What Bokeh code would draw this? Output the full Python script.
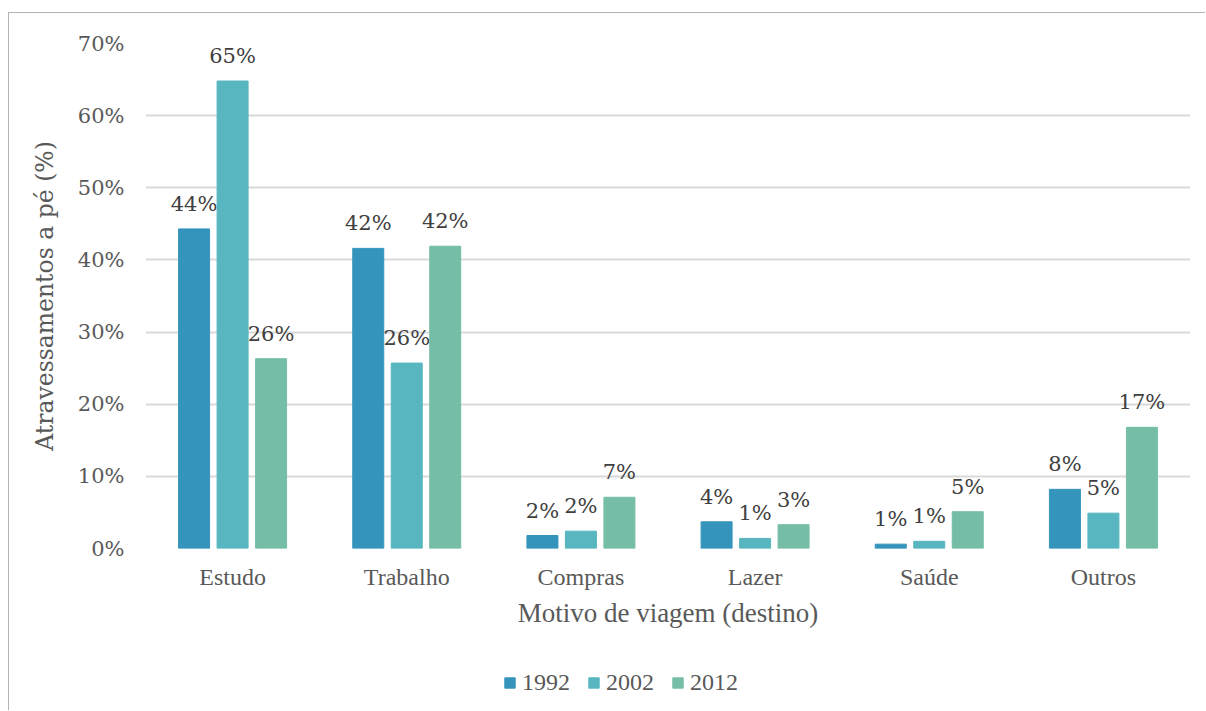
from bokeh.plotting import figure
from bokeh.layouts import column
from bokeh.models import (ColumnDataSource, FactorRange, Legend, LegendItem, NumeralTickFormatter,
                          FixedTicker, Range1d)
from bokeh.transform import dodge
from bokeh.core.properties import value
from bokeh.embed import file_html
from bokeh.resources import INLINE

categories = ["Estudo", "Trabalho", "Compras", "Lazer", "Saúde", "Outros"]
years = ["1992", "2002", "2012"]
v1992 = [44.3, 41.6, 1.8, 3.7, 0.6, 8.2]
v2002 = [64.8, 25.7, 2.4, 1.4, 1.0, 4.9]
v2012 = [26.3, 41.9, 7.1, 3.3, 5.1, 16.8]
ticks = [0, 10, 20, 30, 40, 50, 60, 70]
colors = ["#3594BC", "#58B6C0", "#75BDA7"]

FONT = "Liberation Serif"
FONT2 = "DejaVu Serif"

p = figure(x_range=FactorRange(*categories, range_padding=0), y_range=(0, 70),
           width=1196, height=620, output_backend="svg", toolbar_location=None,
           min_border_left=136, min_border_top=30, min_border_right=15, min_border_bottom=85)
p.x_range.range_padding = 0
p.outline_line_color = None
p.background_fill_color = "white"

src = ColumnDataSource(dict(cat=categories, v1992=v1992, v2002=v2002, v2012=v2012,
                            l1992=[f"{round(v)}%" for v in v1992],
                            l2002=[f"{round(v)}%" for v in v2002],
                            l2012=[f"{round(v)}%" for v in v2012]))

offsets = [-0.221, 0.0, 0.221]
for yr, off, col in zip(years, offsets, colors):
    p.vbar(x=dodge("cat", off, range=p.x_range), top="v" + yr, width=0.178, source=src,
           fill_color=col, line_color=col, line_width=1)
    p.text(x=dodge("cat", off, range=p.x_range), y="v" + yr, text="l" + yr, source=src,
           text_font=value(FONT2), text_font_size="21px", text_color="#404040",
           text_align="center", text_baseline="bottom", y_offset=-13)

p.yaxis.ticker = FixedTicker(ticks=ticks)
p.yaxis.formatter = NumeralTickFormatter(format="0")
p.yaxis.major_label_overrides = {t: f"{t}%" for t in ticks}

for ax in (p.xaxis, p.yaxis):
    ax.axis_line_color = None
    ax.major_tick_line_color = None
    ax.minor_tick_line_color = None
    ax.major_tick_out = 0
    ax.major_tick_in = 0
    ax.major_label_text_color = "#595959"
    ax.axis_label_text_font_style = "normal"
    ax.axis_label_text_color = "#595959"

p.xaxis.major_label_text_font = FONT
p.xaxis.major_label_text_font_size = "24px"
p.xaxis.axis_label_text_font = FONT
p.xaxis.axis_label_text_font_size = "27px"
p.yaxis.major_label_text_font = FONT2
p.yaxis.major_label_text_font_size = "21px"
p.yaxis.axis_label_text_font = FONT2
p.yaxis.axis_label_text_font_size = "23.5px"

p.yaxis.axis_label = "Atravessamentos a pé (%)"
p.yaxis.major_label_standoff = 21
p.yaxis.axis_label_standoff = 16
p.xaxis.axis_label = "Motivo de viagem (destino)"
p.xaxis.major_label_standoff = 15
p.xaxis.axis_label_standoff = 5

p.xgrid.grid_line_color = None
p.ygrid.grid_line_color = "#d9d9d9"
p.ygrid.grid_line_width = 2

# legend strip (its bars lie far outside its visible range; only the legend shows)
lf = figure(width=1196, height=77, output_backend="svg", toolbar_location=None,
            x_range=p.x_range, y_range=Range1d(1000, 1001),
            min_border_left=0, min_border_right=0, min_border_top=0, min_border_bottom=0)
lf.axis.visible = False
lf.grid.visible = False
lf.outline_line_color = None
lrs = [lf.vbar(x="cat", top="v" + yr, width=0.1, source=src, fill_color=c, line_color=c)
       for yr, c in zip(years, colors)]
legend = Legend(items=[LegendItem(label=y, renderers=[r]) for y, r in zip(years, lrs)],
                orientation="horizontal", location=(358, 14),
                glyph_width=13, glyph_height=13, label_standoff=6, spacing=17,
                padding=0, margin=0, border_line_color=None, background_fill_alpha=0,
                label_text_font=FONT, label_text_font_size="24px", label_text_color="#595959")
lf.add_layout(legend, "center")

layout = column(p, lf, spacing=0)
layout.styles = {"margin-left": "8px", "margin-top": "12px",
                 "border-left": "1.5px solid #b4b4b4", "border-top": "1.5px solid #b4b4b4"}

open("out.html", "w").write(file_html(layout, INLINE))
